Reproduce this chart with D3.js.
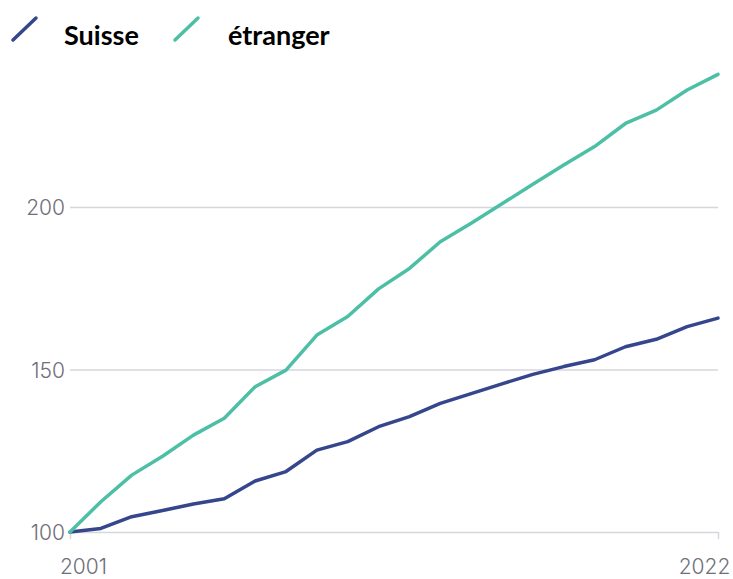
<!DOCTYPE html>
<html>
<head>
<meta charset="utf-8">
<script src="https://cdn.jsdelivr.net/npm/d3@7"></script>
<style>
  body { margin: 0; background: #fff; }
  svg { display: block; }
  .tick text { font-family: Inter, "Noto Sans", sans-serif; font-size: 21px; font-weight: 300; fill: #6f6f79; }
  .legend text { font-family: Lato, "Open Sans", sans-serif; font-weight: 700; font-size: 27px; fill: #000; }
</style>
</head>
<body>
<div id="chart"></div>
<script>
// index, 2001 = 100
const years = d3.range(2001, 2023);
const suisse = [100, 101.1, 104.7, 106.6, 108.6, 110.2, 115.7, 118.6, 125.2, 127.8, 132.4,
                135.5, 139.6, 142.6, 145.6, 148.5, 150.9, 153.0, 157.0, 159.3, 163.2, 165.8];
const etranger = [100, 109.3, 117.5, 123.3, 129.8, 135.0, 144.7, 149.8, 160.6, 166.3, 174.8,
                  181.1, 189.3, 195.0, 201.0, 207.0, 212.9, 218.6, 225.7, 229.8, 236.0, 240.8];
const yTicks = [100, 150, 200];
const xTicks = [2001, 2022];
const seriesNames = ["Suisse", "étranger"];
const colors = ["#35468d", "#4dbfa6"];

const width = 733, height = 579;

const svg = d3.select("#chart").append("svg")
    .attr("width", width)
    .attr("height", height);

const x = d3.scaleLinear().domain([2001, 2022]).range([70, 718]);
const y = d3.scaleLinear().domain([100, 200]).range([532, 207]);

// horizontal grid + y labels
const yAxis = svg.append("g")
    .attr("transform", "translate(70,0)")
    .call(d3.axisLeft(y).tickValues(yTicks).tickSize(-648).tickPadding(5));
yAxis.select(".domain").remove();
yAxis.selectAll(".tick line").attr("stroke", "#d6d6dd").attr("stroke-width", 1.5);
yAxis.selectAll(".tick text").attr("dy", "0.36em");

// x axis: only end ticks
const xAxis = svg.append("g")
    .attr("transform", "translate(0,532)")
    .call(d3.axisBottom(x).tickValues(xTicks).tickFormat(d3.format("d")).tickSize(7).tickPadding(20));
xAxis.select(".domain").remove();
xAxis.selectAll(".tick line").attr("stroke", "#d6d6dd").attr("stroke-width", 1.5);
xAxis.selectAll(".tick text")
    .attr("dx", d => d === 2001 ? 13 : -14);

// lines
const line = d3.line()
    .x((d, i) => x(years[i]))
    .y(d => y(d));

[suisse, etranger].forEach((s, k) => {
    svg.append("path")
        .datum(s)
        .attr("fill", "none")
        .attr("stroke", colors[k])
        .attr("stroke-width", 3.5)
        .attr("stroke-linejoin", "round")
        .attr("stroke-linecap", "round")
        .attr("d", line);
});

// legend
const legend = svg.append("g").attr("class", "legend");
const legendX = [12, 174];
const textX = [64, 228];
seriesNames.forEach((name, k) => {
    legend.append("line")
        .attr("x1", legendX[k] + 1).attr("y1", 40)
        .attr("x2", legendX[k] + 24).attr("y2", 18)
        .attr("stroke", colors[k])
        .attr("stroke-width", 3.5)
        .attr("stroke-linecap", "round");
    legend.append("text")
        .attr("x", textX[k])
        .attr("y", 45)
        .text(name);
});
</script>
</body>
</html>
